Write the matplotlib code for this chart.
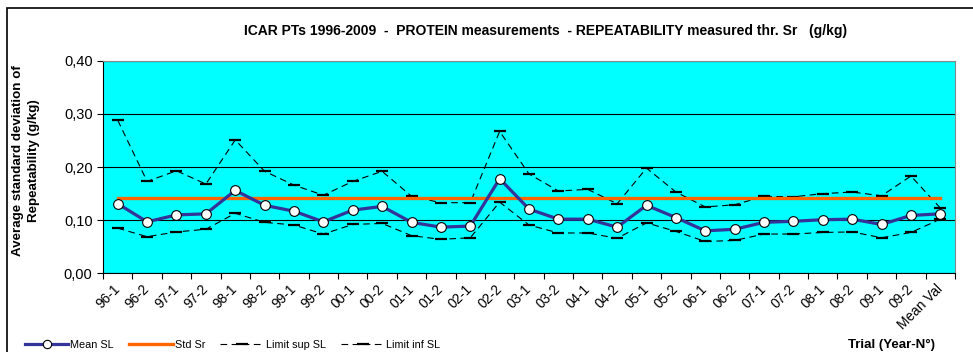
import matplotlib
matplotlib.use('Agg')
import matplotlib.pyplot as plt
from matplotlib.lines import Line2D
from matplotlib.patches import Rectangle
import numpy as np

plt.rcParams['font.family'] = ['Liberation Sans', 'DejaVu Sans']

# trials (year-n°) and repeatability values in g/kg
trials = ['96-1', '96-2', '97-1', '97-2', '98-1', '98-2', '99-1', '99-2',
          '00-1', '00-2', '01-1', '01-2', '02-1', '02-2', '03-1', '03-2',
          '04-1', '04-2', '05-1', '05-2', '06-1', '06-2', '07-1', '07-2',
          '08-1', '08-2', '09-1', '09-2', 'Mean Val']
mean_sl = [0.131, 0.097, 0.110, 0.112, 0.156, 0.128, 0.117, 0.097,
           0.119, 0.126, 0.096, 0.087, 0.089, 0.178, 0.121, 0.102,
           0.102, 0.087, 0.128, 0.105, 0.080, 0.083, 0.096, 0.098,
           0.101, 0.102, 0.092, 0.109, 0.112]
lim_sup = [0.288, 0.173, 0.193, 0.168, 0.251, 0.192, 0.166, 0.147,
           0.173, 0.192, 0.145, 0.133, 0.133, 0.267, 0.187, 0.155,
           0.158, 0.131, 0.198, 0.153, 0.125, 0.129, 0.145, 0.144,
           0.150, 0.153, 0.146, 0.183, 0.123]
lim_inf = [0.085, 0.069, 0.078, 0.083, 0.113, 0.096, 0.091, 0.074,
           0.092, 0.094, 0.071, 0.064, 0.067, 0.134, 0.091, 0.076,
           0.076, 0.066, 0.095, 0.079, 0.060, 0.062, 0.074, 0.074,
           0.077, 0.078, 0.067, 0.077, 0.102]
std_sr = 0.142

x = np.arange(len(trials))

fig = plt.figure(figsize=(9.73, 3.52), dpi=100)
ax = fig.add_axes([0.1059, 0.2233, 0.8756, 0.6043])
ax.set_facecolor('#00FFFF')

ax.plot(x, lim_sup, color='black', lw=0.8, ls=(0, (6, 4)), marker='_',
        ms=9, mew=1.6, zorder=3)
ax.plot(x, lim_inf, color='black', lw=0.8, ls=(0, (6, 4)), marker='_',
        ms=9, mew=1.6, zorder=3)
ax.plot(x, [std_sr] * len(x), color='#FF6600', lw=2.4, zorder=4)
ax.plot(x, mean_sl, color='#333399', lw=2.3, marker='o', ms=7,
        mfc='white', mec='black', mew=0.8, zorder=5)

ax.set_xlim(-0.5, len(trials) - 0.5)
ax.set_ylim(0, 0.40)
ax.set_yticks([0, 0.1, 0.2, 0.3, 0.4])
ax.set_yticklabels(['0,00', '0,10', '0,20', '0,30', '0,40'], fontsize=10.5)
ax.yaxis.grid(True, color='black', lw=0.8)
ax.set_axisbelow(True)

# category boundaries carry the tick marks, labels sit at centres
ax.set_xticks(np.arange(len(trials) + 1) - 0.5)
ax.set_xticklabels([])
ax.set_xticks(x, minor=True)
ax.set_xticklabels(trials, minor=True, rotation=45, ha='right',
                   va='center', rotation_mode='anchor', fontsize=9.8)
ax.tick_params(axis='x', which='minor', length=0, pad=10)
ax.tick_params(axis='both', which='major', direction='out', length=4,
               width=0.8, color='black')

for s in ['top', 'right']:
    ax.spines[s].set_color('#888888')
for s in ['left', 'bottom']:
    ax.spines[s].set_color('black')

ax.set_ylabel('Average standard deviation of\nRepeatability (g/kg)',
              fontsize=9.6, fontweight='bold', linespacing=1.45)
ax.yaxis.set_label_coords(-0.074, 0.53)

fig.text(0.561, 0.912, 'ICAR PTs 1996-2009  -  PROTEIN measurements  '
         '- REPEATABILITY measured thr. Sr   (g/kg)',
         ha='center', va='center', fontsize=10, fontweight='bold')
fig.text(0.961, 0.02, 'Trial (Year-N°)', ha='right', va='center',
         fontsize=9.5, fontweight='bold')

handles = [
    Line2D([], [], color='#333399', lw=2.3, marker='o', ms=6,
           mfc='white', mec='black', mew=0.8),
    Line2D([], [], color='#FF6600', lw=2.4),
    Line2D([], [], color='black', lw=0.8, ls=(0, (6, 4)), marker='_',
           ms=8, mew=1.6),
    Line2D([], [], color='black', lw=0.8, ls=(0, (6, 4)), marker='_',
           ms=8, mew=1.6),
]
fig.legend(handles, ['Mean SL', 'Std Sr', 'Limit sup SL', 'Limit inf SL'],
           loc='center left', bbox_to_anchor=(0.02, 0.02), ncol=4,
           frameon=False, fontsize=7.8, handlelength=4.0, handletextpad=0.2,
           columnspacing=1.4, borderpad=0)

# outer chart frame
fig.patches.append(Rectangle((7 / 973, -0.1), 2, 1.1 - 8 / 352,
                             transform=fig.transFigure, fill=False,
                             edgecolor='black', lw=1.2))

fig.savefig('out.png', dpi=100)
